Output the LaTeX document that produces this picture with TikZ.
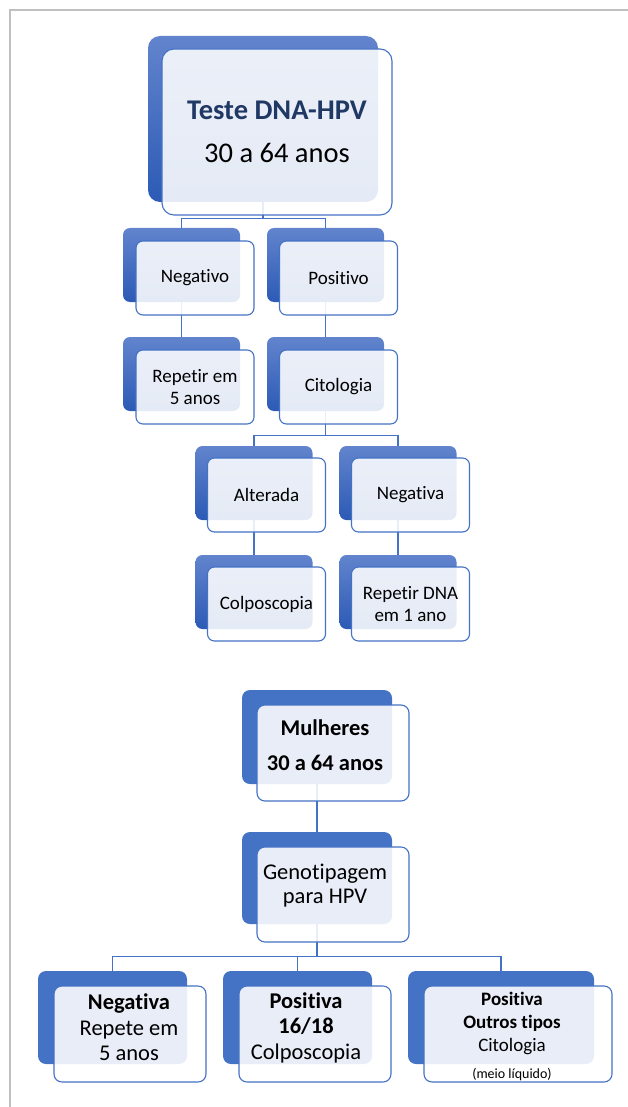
\documentclass[tikz,border=0pt]{standalone}
\usepackage{fontspec}
\setmainfont{Carlito}[Ligatures=NoCommon]
\usepackage{tikz}

\definecolor{smblue}{RGB}{68,114,196}
\definecolor{smtop}{RGB}{98,132,205}
\definecolor{smbot}{RGB}{44,90,181}
\definecolor{smnavy}{RGB}{31,56,100}
\definecolor{frameg}{RGB}{191,191,191}

\begin{document}
\begin{tikzpicture}[x=1pt,y=-1pt,
    backbox/.style={draw=none,top color=smtop,bottom color=smbot,rounded corners=7pt,inner sep=0pt,minimum width=117pt,minimum height=74pt},
    frontbox/.style={draw=smblue,line width=1.1pt,fill=white,fill opacity=0.88,text opacity=1,rounded corners=7pt,inner sep=0pt,minimum width=118pt,minimum height=74pt,align=center,font=\fontsize{19}{22}\selectfont},
    bigbox/.style={minimum width=230pt,minimum height=166pt,rounded corners=12pt},
    flatbox/.style={draw=none,fill=smblue,rounded corners=8pt,inner sep=0pt,minimum width=150pt,minimum height=94pt},
    glassbox/.style={draw=smblue,line width=1.1pt,fill=white,fill opacity=0.88,rounded corners=8pt,inner sep=0pt,minimum width=152pt,minimum height=96pt},
    boxtext/.style={align=center,inner sep=0pt,font=\fontsize{22.5}{25.5}\selectfont},
    link/.style={draw=smblue,line width=1.2pt}]

    \useasboundingbox (0,0) rectangle (628,1107);
    \draw[frameg,line width=1.5pt] (628,10) -- (10,10) -- (10,1107);

    % Back boxes, first tree
    \node[backbox,bigbox] (testeB) at (263,119) {};
    \node[backbox] (negB) at (181.5,265) {};
    \node[backbox] (posB) at (325.5,265) {};
    \node[backbox] (repB) at (181.5,374) {};
    \node[backbox] (citB) at (325.5,374) {};
    \node[backbox] (altB) at (254,483) {};
    \node[backbox] (ngaB) at (398,483) {};
    \node[backbox] (colB) at (254,592) {};
    \node[backbox] (dnaB) at (398,592) {};

    % Links, first tree
    \draw[link] (testeB.south) -- ++(0,16) -| (negB.north);
    \draw[link] (testeB.south) -- ++(0,16) -| (posB.north);
    \draw[link] (negB.south) -- (repB.north);
    \draw[link] (posB.south) -- (citB.north);
    \draw[link] (citB.south) -- ++(0,24) -| (altB.north);
    \draw[link] (citB.south) -- ++(0,24) -| (ngaB.north);
    \draw[link] (altB.south) -- (colB.north);
    \draw[link] (ngaB.south) -- (dnaB.north);

    % Front boxes, first tree
    \node[frontbox,bigbox,font=\fontsize{28.5}{43}\selectfont] (testeF) at (277,132) {{\bfseries\color{smnavy}Teste DNA-HPV}\\30 a 64 anos};
    \node[frontbox] (negF) at (195,278) {Negativo};
    \node[frontbox] (posF) at (338.5,278) {Positivo};
    \node[frontbox] (repF) at (195,387) {Repetir em\\5 anos};
    \node[frontbox] (citF) at (338.5,387) {Citologia};
    \node[frontbox] (altF) at (266.5,495) {Alterada};
    \node[frontbox] (ngaF) at (410.5,495) {Negativa};
    \node[frontbox] (colF) at (266.5,604) {Colposcopia};
    \node[frontbox] (dnaF) at (410.5,604) {Repetir DNA\\em 1 ano};

    % Back boxes, second tree
    \node[flatbox] (mulB) at (317,737) {};
    \node[flatbox,minimum height=92pt] (genB) at (317,878) {};
    \node[flatbox,minimum width=149pt,minimum height=93pt] (negaB) at (112.5,1017.5) {};
    \node[flatbox,minimum width=149pt,minimum height=93pt] (p16B) at (297.5,1017.5) {};
    \node[flatbox,minimum width=186pt,minimum height=93pt] (outB) at (501,1017.5) {};

    % Links, second tree
    \draw[link] (mulB.south) -- (genB.north);
    \draw[link] (genB.south) -- ++(0,32) -| (negaB.north);
    \draw[link] (genB.south) -- ++(0,32) -| (p16B.north);
    \draw[link] (genB.south) -- ++(0,32) -| (outB.north);

    % Front boxes, second tree
    \node[glassbox] (mulF) at (333,753) {};
    \node[glassbox,minimum height=95pt] (genF) at (333,894.5) {};
    \node[glassbox] (negaF) at (130,1034) {};
    \node[glassbox] (p16F) at (315,1034) {};
    \node[glassbox,minimum width=188pt] (outF) at (518,1034) {};

    % Texts, second tree
    \node[boxtext,font=\bfseries\fontsize{22.5}{35}\selectfont] (mulT) at (325,745.5) {Mulheres\\30 a 64 anos};
    \node[boxtext,font=\fontsize{22.5}{24}\selectfont] (genT) at (325,885.5) {Genotipagem\\para HPV};
    \node[boxtext] (negaT) at (129,1027.5) {\textbf{Negativa}\\Repete em\\5 anos};
    \node[boxtext] (p16T) at (306,1027.5) {\textbf{Positiva}\\\textbf{16/18}\\Colposcopia};
    \node[boxtext,font=\fontsize{19}{23}\selectfont] (outT) at (512,1036) {\textbf{Positiva}\\\textbf{Outros tipos}\\Citologia\\[4pt]{\fontsize{14}{17}\selectfont(meio líquido)}};

\end{tikzpicture}
\end{document}
